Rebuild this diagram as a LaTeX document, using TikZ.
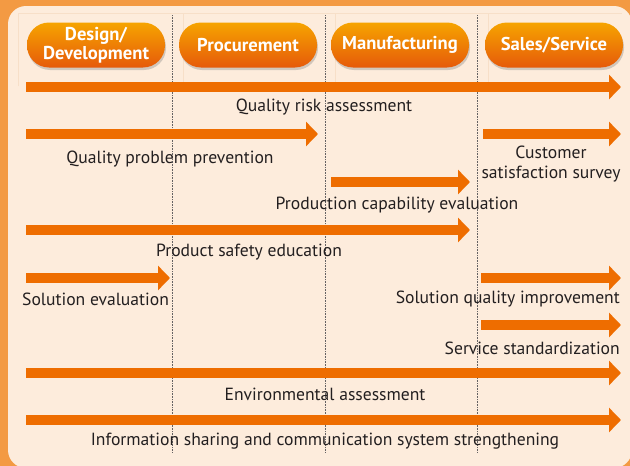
\documentclass[tikz,border=0pt]{standalone}
\usepackage{fontspec}
\setmainfont{PT Sans}
\usetikzlibrary{arrows.meta,shadows}
\definecolor{frameorange}{HTML}{F39A43}
\definecolor{panelcream}{HTML}{FDECDC}
\definecolor{gridline}{HTML}{F7DFC8}
\definecolor{flowtone}{HTML}{EE6D00}
\definecolor{pilltop}{HTML}{F6A400}
\definecolor{pillbot}{HTML}{E65A0A}
\definecolor{inkdark}{HTML}{231F20}

\begin{document}
\begin{tikzpicture}[x=1pt,y=-1pt,
  flow/.style={line width=10pt, draw=flowtone, -{Triangle[length=12pt,width=24pt]}},
  phase/.style={minimum width=138pt, minimum height=45pt, rounded corners=22pt,
    top color=pilltop, bottom color=pillbot, draw=none, text=white, align=center,
    font=\bfseries\fontsize{18.6}{19}\selectfont, inner sep=0pt,
    drop shadow={shadow xshift=1pt, shadow yshift=-2.5pt, opacity=.35}},
  lbl/.style={font=\fontsize{17.6}{20}\selectfont, text=inkdark, inner sep=0pt, align=center}]
  \useasboundingbox (0,0) rectangle (630,466);
  % ---- frame and panel ----
  \fill[frameorange] (0,0) rectangle (630,466);
  \fill[panelcream, rounded corners=18pt] (8,6) rectangle (632,468);
  \draw[gridline, thin] (18,86) -- (18,13) -- (622,13);
  \foreach \x in {183,335,488}
    \draw[gridline, thin] (\x,13) -- (\x,86);
  \foreach \x in {172,325,477}
    \draw[inkdark!70, densely dotted, line width=0.6pt] (\x,15) -- (\x,453);
  % ---- phases ----
  \node[phase] (design) at (96,45) {Design/\\Development};
  \node[phase] (procure) at (248,45) {Procurement};
  \node[phase] (manuf) at (400,45) {Manufacturing};
  \node[phase] (sales) at (554,45) {Sales/Service};
  % ---- activities ----
  \foreach \n/\xa/\xb/\y in {risk/26/621/87, prevent/26/318/134, survey/483/621/134,
      capab/331/470/182, safety/26/470/230, soleval/26/170/278, solimp/481/621/278,
      servstd/481/621/325, environ/26/621/373, infoshare/26/621/420} {
    \coordinate (s-\n) at (\xa,\y);
    \coordinate (e-\n) at (\xb,\y);
    \draw[flow] (s-\n) -- (e-\n);
  }
  \node[lbl] (t-risk) at (324,107) {Quality risk assessment};
  \node[lbl] (t-prevent) at (170,159) {Quality problem prevention};
  \node[lbl] (t-survey) at (551,164) {Customer\\satisfaction survey};
  \node[lbl] (t-capab) at (397,205) {Production capability evaluation};
  \node[lbl] (t-safety) at (249,252) {Product safety education};
  \node[lbl, anchor=west] (t-soleval) at (22,299) {Solution evaluation};
  \node[lbl, anchor=east] (t-solimp) at (620,299) {Solution quality improvement};
  \node[lbl, anchor=east] (t-servstd) at (620,348) {Service standardization};
  \node[lbl] (t-environ) at (325,394) {Environmental assessment};
  \node[lbl] (t-infoshare) at (325,441) {Information sharing and communication system strengthening};
\end{tikzpicture}
\end{document}
